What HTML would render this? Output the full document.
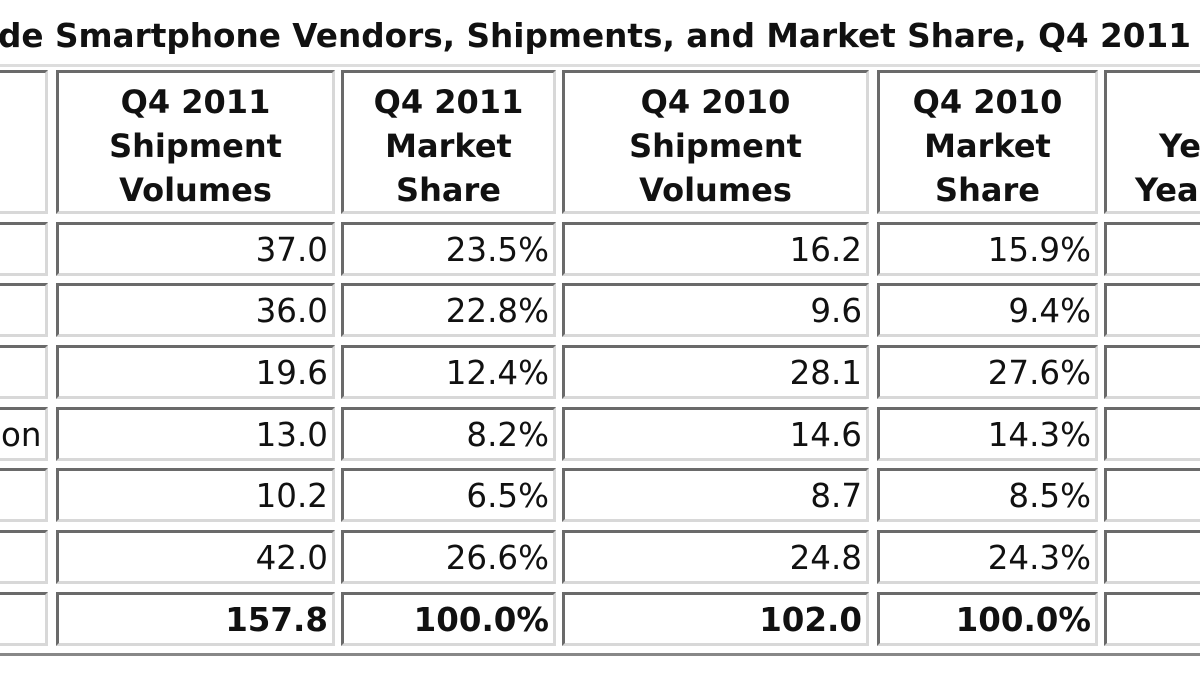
<!DOCTYPE html>
<html><head><meta charset="utf-8"><style>
html,body{margin:0;padding:0;width:1200px;height:675px;overflow:hidden;background:#fff}
#wrap{position:relative;width:1200px;height:675px;overflow:hidden;font-family:"DejaVu Sans","Liberation Sans",sans-serif;color:#111}
.c{position:absolute;box-sizing:border-box;border-style:solid;border-width:3px;border-color:#6a6a6a #d8d8d8 #d8d8d8 #6a6a6a;overflow:hidden;white-space:nowrap}
.h{font-weight:bold;font-size:32px;line-height:44px;text-align:center;padding-top:7px}
.n{font-size:32.5px;text-align:right;padding-right:4px;line-height:50px}
.b{font-weight:bold}
#title{position:absolute;left:-2px;top:17px;font-size:32.7px;font-weight:bold;white-space:nowrap}
#outer{position:absolute;left:-10px;top:64px;width:1230px;height:592px;border-style:solid;border-width:3px;border-color:#ddd #888 #888 #ddd;box-sizing:border-box}
</style></head><body><div id="wrap">
<div id="title">de Smartphone Vendors, Shipments, and Market Share, Q4 2011</div>
<div id="outer"></div>
<div class="c h" style="left:-10px;top:70px;width:58px;height:144px"></div>
<div class="c h" style="left:56px;top:70px;width:279px;height:144px">Q4 2011<br>Shipment<br>Volumes</div>
<div class="c h" style="left:341px;top:70px;width:215px;height:144px">Q4 2011<br>Market<br>Share</div>
<div class="c h" style="left:562px;top:70px;width:307px;height:144px">Q4 2010<br>Shipment<br>Volumes</div>
<div class="c h" style="left:877px;top:70px;width:221px;height:144px">Q4 2010<br>Market<br>Share</div>
<div class="c h" style="left:1104px;top:70px;width:120px;height:144px;text-align:left;padding-left:0"><div style="position:absolute;left:52px;top:51px">Year</div><div style="position:absolute;left:28px;top:95px">Year</div></div>
<div id="rows"></div>
</div>
<script>
var rows=[["","37.0","23.5%","16.2","15.9%"],["","36.0","22.8%","9.6","9.4%"],["","19.6","12.4%","28.1","27.6%"],["on","13.0","8.2%","14.6","14.3%"],["","10.2","6.5%","8.7","8.5%"],["","42.0","26.6%","24.8","24.3%"],["","157.8","100.0%","102.0","100.0%"]];
var cols=[[-10,58],[56,279],[341,215],[562,307],[877,221],[1104,120]];
var tops=[222,283,345,407,468,530,592];
var h="";
rows.forEach(function(r,i){
 for(var j=0;j<6;j++){
  var t=j<5?r[j]:"";var cls="c n"+(i==6?" b":"");var st="left:"+cols[j][0]+"px;top:"+tops[i]+"px;width:"+cols[j][1]+"px;height:54px";
  if(j==0){st+=";text-align:left;padding-left:8px"}
  h+='<div class="'+cls+'" style="'+st+'">'+t+'</div>';
 }
});
document.getElementById("rows").innerHTML=h;
</script>
</body></html>
